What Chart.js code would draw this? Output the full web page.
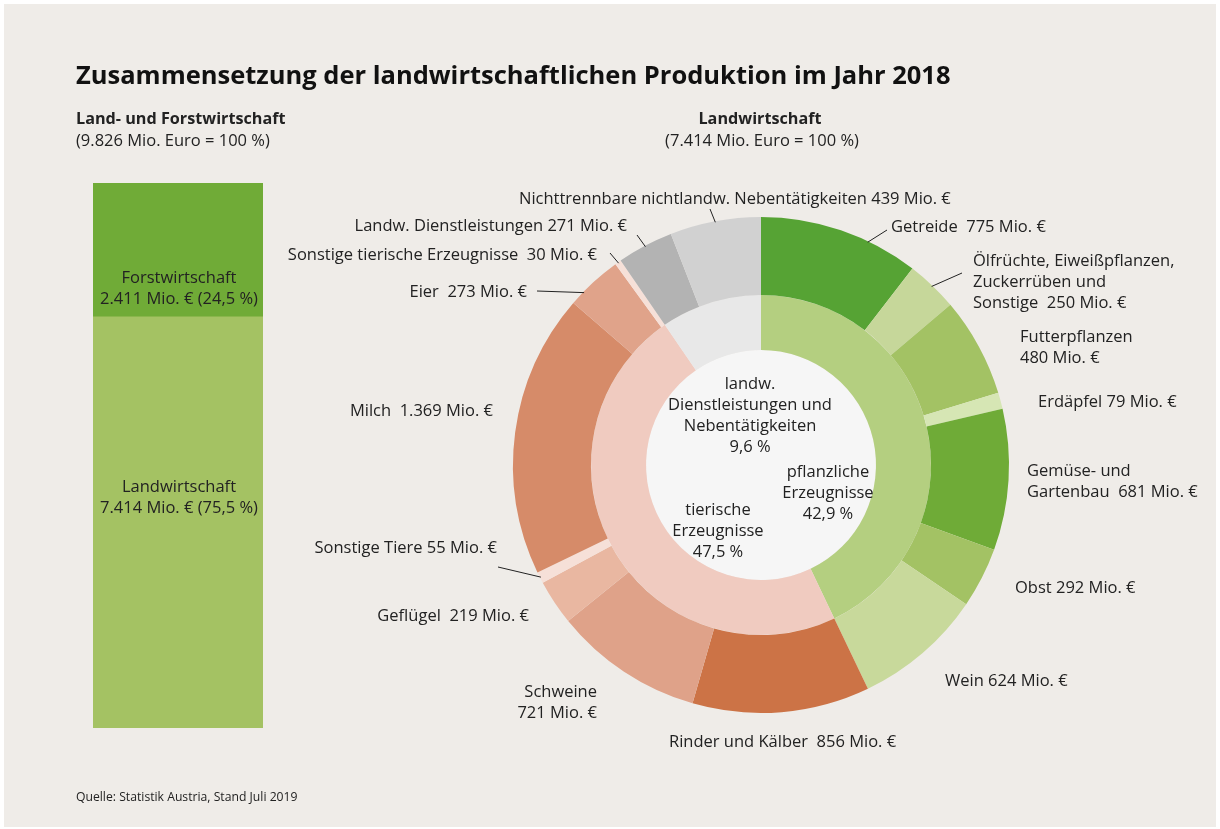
<!DOCTYPE html>
<html lang="de">
<head>
<meta charset="utf-8">
<script src="https://cdn.jsdelivr.net/npm/chart.js@4.4.1/dist/chart.umd.min.js"></script>
<style>
  html, body { margin: 0; padding: 0; background: #ffffff; }
  body { width: 1220px; height: 829px; position: relative; overflow: hidden; font-family: "Open Sans", "Noto Sans", sans-serif; color: #222; }
  #card { position: absolute; left: 4px; top: 4px; width: 1212px; height: 823px; background: #efece8; }
  canvas { position: absolute; }
  .t { position: absolute; white-space: pre; font-size: 16.5px; line-height: 21px; }
  .b { font-weight: bold; font-size: 16.2px; }
  .c { transform: translateX(-50%); text-align: center; }
  .r { text-align: right; }
  #title { position: absolute; left: 76px; top: 57px; font-size: 25.5px; font-weight: bold; color: #111; white-space: pre; }
  #src { position: absolute; left: 76px; top: 788px; font-size: 12.2px; white-space: pre; }
</style>
</head>
<body>
<div id="card"></div>
<canvas id="donut" width="1220" height="829" style="left:0;top:0;width:1220px;height:829px"></canvas>
<canvas id="bar" width="170" height="545" style="left:93px;top:183px;width:170px;height:545px"></canvas>
<div id="title">Zusammensetzung der landwirtschaftlichen Produktion im Jahr 2018</div>
<div id="src">Quelle: Statistik Austria, Stand Juli 2019</div>
<div id="labels"></div>
<script>
// ---- data ----
const barCategories = ['Landwirtschaft', 'Forstwirtschaft'];
const barValues = [7414, 2411];
const barShares = ['75,5 %', '24,5 %'];
const barTotal = 9826;

const innerCategories = ['pflanzliche Erzeugnisse', 'tierische Erzeugnisse', 'landw. Dienstleistungen und Nebentätigkeiten'];
const innerValues = [3181, 3523, 710];
const innerShares = ['42,9 %', '47,5 %', '9,6 %'];
const innerTotal = 7414;

const outerCategories = ['Getreide', 'Ölfrüchte, Eiweißpflanzen, Zuckerrüben und Sonstige', 'Futterpflanzen', 'Erdäpfel',
  'Gemüse- und Gartenbau', 'Obst', 'Wein', 'Rinder und Kälber', 'Schweine', 'Geflügel', 'Sonstige Tiere', 'Milch',
  'Eier', 'Sonstige tierische Erzeugnisse', 'Landw. Dienstleistungen', 'Nichttrennbare nichtlandw. Nebentätigkeiten'];
const outerValues = [775, 250, 480, 79, 681, 292, 624, 856, 721, 219, 55, 1369, 273, 30, 271, 439];

// ---- styles ----
const barColors = ['#a4c263', '#70ab37'];
const innerColors = ['#b4cf80', '#f0cbc0', '#e8e8e8'];
const outerColors = ['#56a334', '#c6d79a', '#a3c264', '#d6e6b4', '#6fab37', '#a3c264', '#c8d99b',
  '#cc7346', '#dfa289', '#e9b7a1', '#f6e0d8', '#d68b69', '#e0a38a', '#f6e0d8', '#b3b3b3', '#d1d1d1'];

const fmt = v => v.toLocaleString('de-DE');
const mio = v => fmt(v) + ' Mio. €';

// ---- bar chart ----
new Chart(document.getElementById('bar'), {
  type: 'bar',
  data: {
    labels: [''],
    datasets: barCategories.map((c, i) => ({
      label: c, data: [barValues[i]], backgroundColor: barColors[i], borderWidth: 0,
      barPercentage: 1, categoryPercentage: 1
    }))
  },
  options: {
    responsive: false, animation: false,
    layout: { padding: 0 },
    plugins: { legend: { display: false }, tooltip: { enabled: false } },
    scales: {
      x: { display: false, stacked: true },
      y: { display: false, stacked: true, min: 0, max: barValues.reduce((a, b) => a + b, 0) }
    }
  }
});

// ---- doughnut ----
const leaders = [
  { i: 15, f: 0.5, end: [710, 209] },
  { i: 14, f: 0.5, end: [637, 235] },
  { i: 13, f: 0.5, end: [610, 253] },
  { i: 12, f: 0.26, end: [537, 291] },
  { i: 10, f: 0.5, end: [498, 567] },
  { i: 0, f: 0.68, end: [887, 230] },
  { i: 1, f: 0.5, end: [962, 273] }
];
const centerPlugin = {
  id: 'centerDisc',
  beforeDatasetsDraw(chart) {
    const arc = chart.getDatasetMeta(1).data[0];
    const ctx = chart.ctx;
    ctx.save();
    ctx.beginPath();
    ctx.arc(arc.x, arc.y, arc.innerRadius, 0, Math.PI * 2);
    ctx.fillStyle = '#f6f6f6';
    ctx.fill();
    ctx.restore();
  },
  afterDatasetsDraw(chart) {
    const meta = chart.getDatasetMeta(0);
    const ctx = chart.ctx;
    ctx.save();
    ctx.strokeStyle = '#222';
    ctx.lineWidth = 1;
    leaders.forEach(l => {
      const a = meta.data[l.i];
      const ang = a.startAngle + l.f * (a.endAngle - a.startAngle);
      ctx.beginPath();
      ctx.moveTo(a.x + Math.cos(ang) * (a.outerRadius - 1), a.y + Math.sin(ang) * (a.outerRadius - 1));
      ctx.lineTo(l.end[0], l.end[1]);
      ctx.stroke();
    });
    ctx.restore();
  }
};
new Chart(document.getElementById('donut'), {
  type: 'doughnut',
  data: {
    labels: outerCategories,
    datasets: [
      { data: outerValues, backgroundColor: outerColors, borderWidth: 0, weight: 78 },
      { data: innerValues, backgroundColor: innerColors, borderWidth: 0, weight: 55 }
    ]
  },
  options: {
    responsive: false, animation: false,
    cutout: 115,
    layout: { padding: { left: 513, top: 217, right: 211, bottom: 116 } },
    plugins: { legend: { display: false }, tooltip: { enabled: false } }
  },
  plugins: [centerPlugin]
});

// ---- text labels ----
const texts = [
  { lines: ['Land- und Forstwirtschaft'], x: 76, y: 118, a: 'l', b: true },
  { lines: [`(${fmt(barTotal)} Mio. Euro = 100 %)`], x: 76, y: 139, a: 'l' },
  { lines: [barCategories[0]], x: 760, y: 118, a: 'c', b: true },
  { lines: [`(${fmt(innerTotal)} Mio. Euro = 100 %)`], x: 762, y: 139, a: 'c' },
  { lines: [barCategories[1], `${mio(barValues[1])} (${barShares[1]})`], x: 179, y: 276, a: 'c' },
  { lines: [barCategories[0], `${mio(barValues[0])} (${barShares[0]})`], x: 179, y: 485, a: 'c' },
  // center
  { lines: ['landw.', 'Dienstleistungen und', 'Nebentätigkeiten', innerShares[2]], x: 750, y: 382, a: 'c' },
  { lines: ['pflanzliche', 'Erzeugnisse', innerShares[0]], x: 828, y: 470, a: 'c' },
  { lines: ['tierische', 'Erzeugnisse', innerShares[1]], x: 718, y: 508, a: 'c' },
  // outer
  { lines: [`${outerCategories[15]} ${mio(outerValues[15])}`], x: 519, y: 197, a: 'l' },
  { lines: [`${outerCategories[14]} ${mio(outerValues[14])}`], x: 627, y: 224, a: 'r' },
  { lines: [`${outerCategories[13]}  ${mio(outerValues[13])}`], x: 597, y: 253, a: 'r' },
  { lines: [`${outerCategories[12]}  ${mio(outerValues[12])}`], x: 527, y: 290, a: 'r' },
  { lines: [`${outerCategories[11]}  ${mio(outerValues[11])}`], x: 493, y: 409, a: 'r' },
  { lines: [`${outerCategories[10]} ${mio(outerValues[10])}`], x: 497, y: 546, a: 'r' },
  { lines: [`${outerCategories[9]}  ${mio(outerValues[9])}`], x: 529, y: 614, a: 'r' },
  { lines: [outerCategories[8], mio(outerValues[8])], x: 597, y: 690, a: 'r' },
  { lines: [`${outerCategories[7]}  ${mio(outerValues[7])}`], x: 669, y: 740, a: 'l' },
  { lines: [`${outerCategories[6]} ${mio(outerValues[6])}`], x: 945, y: 679, a: 'l' },
  { lines: [`${outerCategories[5]} ${mio(outerValues[5])}`], x: 1015, y: 586, a: 'l' },
  { lines: ['Gemüse- und', `Gartenbau  ${mio(outerValues[4])}`], x: 1027, y: 469, a: 'l' },
  { lines: [`${outerCategories[3]} ${mio(outerValues[3])}`], x: 1038, y: 400, a: 'l' },
  { lines: [outerCategories[2], mio(outerValues[2])], x: 1020, y: 335, a: 'l' },
  { lines: ['Ölfrüchte, Eiweißpflanzen,', 'Zuckerrüben und', `Sonstige  ${mio(outerValues[1])}`], x: 973, y: 259, a: 'l' },
  { lines: [`${outerCategories[0]}  ${mio(outerValues[0])}`], x: 891, y: 225, a: 'l' }
];
const holder = document.getElementById('labels');
texts.forEach(t => {
  const d = document.createElement('div');
  d.className = 't' + (t.b ? ' b' : '') + (t.a === 'c' ? ' c' : '') + (t.a === 'r' ? ' r' : '');
  d.textContent = t.lines.join('\n');
  d.style.top = (t.y - 10.5) + 'px';
  if (t.a === 'r') d.style.right = (1220 - t.x) + 'px';
  else d.style.left = t.x + 'px';
  holder.appendChild(d);
});
</script>
</body>
</html>
